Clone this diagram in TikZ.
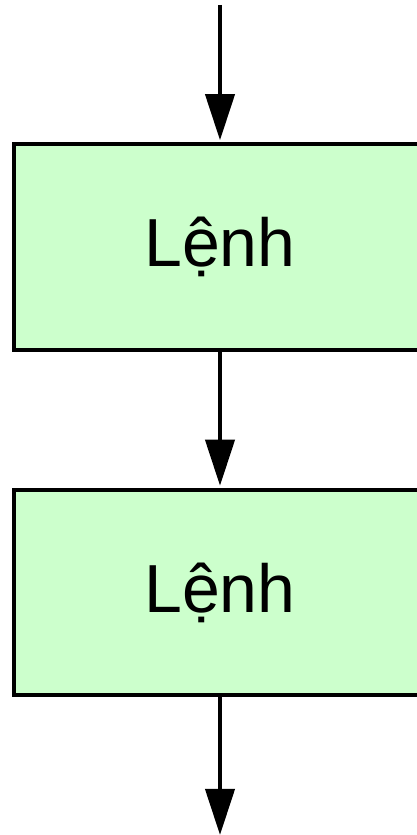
\documentclass[tikz,border=0pt]{standalone}
\usepackage{fontspec}
\setmainfont{Liberation Sans}
\usetikzlibrary{positioning}
\usetikzlibrary{arrows.meta}
\definecolor{lenhgreen}{HTML}{CCFFCC}
\tikzset{%
  lenh/.style = {rectangle,draw,line width=4pt,fill=lenhgreen,
        minimum width=413pt,minimum height=205.5pt,
        font=\fontsize{68}{80}\selectfont},
  flow/.style = {-{Triangle[length=46pt,width=29pt]},line width=4pt}
}
\begin{document}
\begin{tikzpicture}[x=1pt,y=1pt]
  \useasboundingbox (0,0) rectangle (417,835);
  \coordinate (start) at (220,830);
  \node[lenh] (l1) at (220,588) {Lệnh};
  \node[lenh] (l2) [below=136pt of l1] {Lệnh};
  \coordinate (end) at (220,0);

  \draw[flow] (start) -- ([yshift=2pt]l1.north);
  \draw[flow] (l1.south) -- ([yshift=2pt]l2.north);
  \draw[flow] (l2.south) -- (end);
\end{tikzpicture}
\end{document}
